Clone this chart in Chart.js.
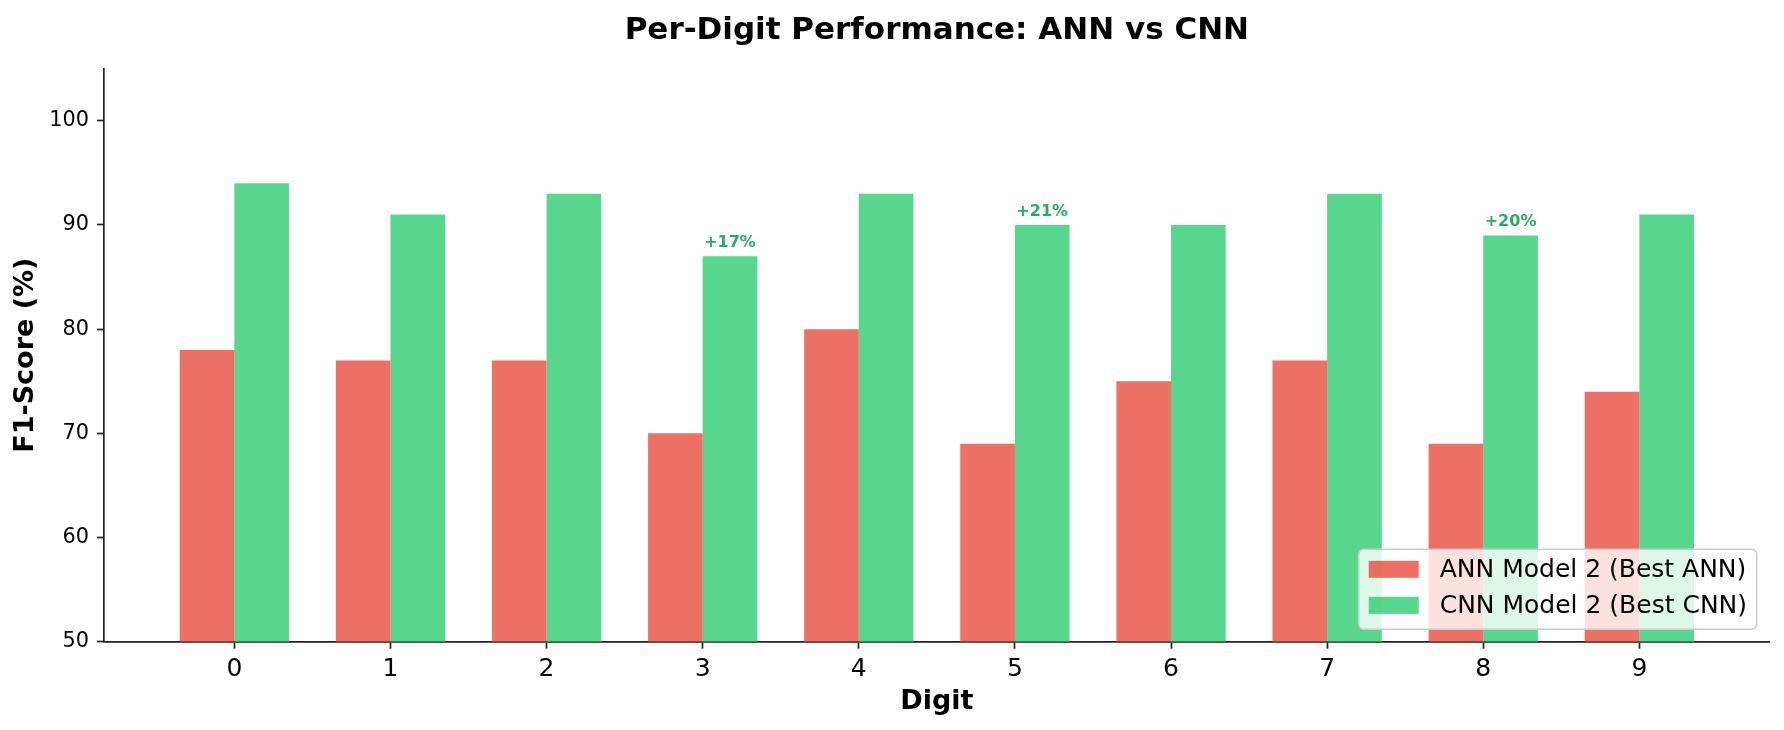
<!DOCTYPE html>
<html>
<head>
<meta charset="utf-8">
<script src="https://cdn.jsdelivr.net/npm/chart.js@4/dist/chart.umd.min.js"></script>
<style>
  html, body { margin: 0; padding: 0; background: #fff; }
  #wrap { width: 1784px; height: 730px; }
</style>
</head>
<body>
<div id="wrap"><canvas id="digitChart" width="1784" height="730"></canvas></div>
<script>
// --- data ---
const digits = [0, 1, 2, 3, 4, 5, 6, 7, 8, 9];
const annScores = [78, 77, 77, 70, 80, 69, 75, 77, 69, 74];
const cnnScores = [94, 91, 93, 87, 93, 90, 90, 93, 89, 91];
const yTicks = [50, 60, 70, 80, 90, 100];
const gainDigits = [3, 5, 8];
const gainLabels = ['+17%', '+21%', '+20%'];

const FONT = "'DejaVu Sans', sans-serif";
const INK = '#222';

// small text labels above the biggest CNN gains
const gainLabelPlugin = {
    id: 'gainLabels',
    afterDatasetsDraw(chart) {
        const ctx = chart.ctx;
        const yScale = chart.scales.y;
        const meta = chart.getDatasetMeta(1);
        ctx.save();
        ctx.font = 'bold 16px ' + FONT;
        ctx.fillStyle = '#27ae60';
        ctx.textAlign = 'center';
        ctx.textBaseline = 'bottom';
        gainDigits.forEach((d, i) => {
            const idx = digits.indexOf(d);
            const bar = meta.data[idx];
            ctx.fillText(gainLabels[i], bar.x, yScale.getPixelForValue(cnnScores[idx] + 0.5));
        });
        ctx.restore();
    }
};

// matplotlib-style legend box, lower right inside the axes
const boxLegendPlugin = {
    id: 'boxLegend',
    afterDraw(chart) {
        const ctx = chart.ctx;
        const area = chart.chartArea;
        const fontSize = 25;
        const rowH = 36;
        const boxW = 398, boxH = 80;
        const bx = area.right - 13 - boxW;
        const by = area.bottom - 12.4 - boxH;
        ctx.save();
        ctx.beginPath();
        ctx.roundRect(bx, by, boxW, boxH, 5);
        ctx.fillStyle = 'rgba(255,255,255,0.8)';
        ctx.fill();
        ctx.lineWidth = 1.5;
        ctx.strokeStyle = '#cccccc';
        ctx.stroke();
        ctx.font = fontSize + 'px ' + FONT;
        ctx.textBaseline = 'middle';
        ctx.textAlign = 'left';
        chart.data.datasets.forEach((ds, i) => {
            const cy = by + 20 + i * rowH;
            ctx.fillStyle = ds.backgroundColor;
            ctx.fillRect(bx + 10, cy - 8.5, 50, 17);
            ctx.fillStyle = '#000';
            ctx.fillText(ds.label, bx + 81, cy + 1);
        });
        ctx.restore();
    }
};

const ctx = document.getElementById('digitChart').getContext('2d');
new Chart(ctx, {
    type: 'bar',
    data: {
        datasets: [
            {
                label: 'ANN Model 2 (Best ANN)',
                data: digits.map((d, i) => ({ x: d, y: annScores[i] })),
                backgroundColor: 'rgba(231, 76, 60, 0.8)',
                borderWidth: 0
            },
            {
                label: 'CNN Model 2 (Best CNN)',
                data: digits.map((d, i) => ({ x: d, y: cnnScores[i] })),
                backgroundColor: 'rgba(46, 204, 113, 0.8)',
                borderWidth: 0
            }
        ]
    },
    options: {
        responsive: false,
        animation: false,
        devicePixelRatio: 1,
        categoryPercentage: 0.7,
        barPercentage: 1.0,
        layout: { padding: { left: 0, right: 14.3, top: 0, bottom: 0 } },
        plugins: {
            legend: { display: false },
            tooltip: { enabled: false },
            title: {
                display: true,
                fullSize: false,
                text: 'Per-Digit Performance: ANN vs CNN',
                color: '#000',
                font: { family: FONT, size: 31, weight: 'bold' },
                padding: { top: 11.9, bottom: 19.6 }
            }
        },
        scales: {
            x: {
                type: 'linear',
                min: -0.835,
                max: 9.835,
                offset: false,
                afterBuildTicks: (scale) => { scale.ticks = digits.map(v => ({ value: v })); },
                afterFit: (scale) => { scale.height = 88.3; },
                ticks: {
                    color: '#000',
                    font: { family: FONT, size: 25 },
                    padding: 5.5,
                    callback: (v) => String(v)
                },
                grid: {
                    display: true,
                    offset: false,
                    drawOnChartArea: false,
                    drawTicks: true,
                    tickLength: 7,
                    tickWidth: 1.7,
                    tickColor: INK
                },
                border: { display: true, color: INK, width: 1.7 },
                title: {
                    display: true,
                    text: 'Digit',
                    color: '#000',
                    font: { family: FONT, size: 27, weight: 'bold' },
                    padding: { top: 0, bottom: 11.4 }
                }
            },
            y: {
                min: 50,
                max: 105,
                afterBuildTicks: (scale) => { scale.ticks = yTicks.map(v => ({ value: v })); },
                afterFit: (scale) => { scale.width = 104; },
                ticks: {
                    color: '#000',
                    font: { family: FONT, size: 20.8 },
                    padding: 8
                },
                grid: {
                    display: true,
                    drawOnChartArea: false,
                    drawTicks: true,
                    tickLength: 7,
                    tickWidth: 1.7,
                    tickColor: INK
                },
                border: { display: true, color: INK, width: 1.7 },
                title: {
                    display: true,
                    text: 'F1-Score (%)',
                    color: '#000',
                    font: { family: FONT, size: 27, weight: 'bold' },
                    padding: { top: 9.8, bottom: 0 }
                }
            }
        }
    },
    plugins: [gainLabelPlugin, boxLegendPlugin]
});
</script>
</body>
</html>
